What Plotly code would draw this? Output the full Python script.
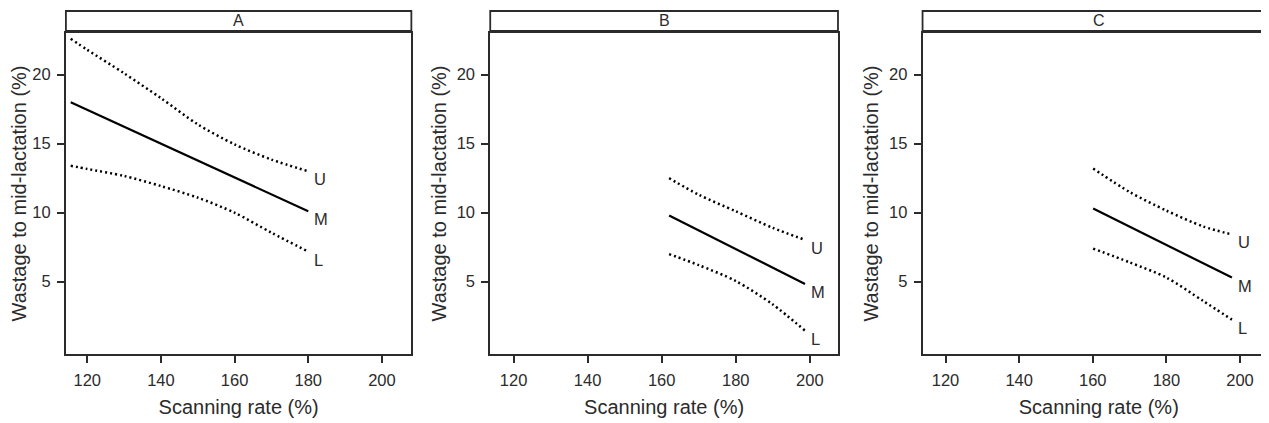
import plotly.graph_objects as go

# ---- data ----
panels = ["A", "B", "C"]

A_x = [115.5, 120, 130, 140, 150, 160, 170, 180]
A_M = [18.0, 17.45, 16.22, 15.0, 13.77, 12.55, 11.32, 10.1]
A_U = [22.6, 21.8, 20.1, 18.3, 16.4, 14.95, 13.85, 13.0]
A_L = [13.4, 13.17, 12.66, 11.93, 11.09, 10.0, 8.55, 7.18]

B_x = [162, 170, 180, 190, 198.7]
B_M = [9.8, 8.72, 7.37, 6.01, 4.83]
B_U = [12.5, 11.3, 10.1, 8.9, 8.03]
B_L = [7.0, 6.2, 5.05, 3.35, 1.45]

C_x = [160.1, 170, 180, 190, 197.8]
C_M = [10.3, 8.99, 7.66, 6.34, 5.3]
C_U = [13.2, 11.5, 10.15, 9.0, 8.42]
C_L = [7.4, 6.4, 5.3, 3.6, 2.25]

x_ticks = [120, 140, 160, 180, 200]
y_ticks = [5, 10, 15, 20]
series_labels = ["U", "M", "L"]

x_title = "Scanning rate (%)"
y_title = "Wastage to mid-lactation (%)"

data = {
    "A": (A_x, A_U, A_M, A_L),
    "B": (B_x, B_U, B_M, B_L),
    "C": (C_x, C_U, C_M, C_L),
}

# ---- layout geometry (figure pixels; page body adds an 8px offset) ----
W, H = 1269, 423
px_dom = {"A": (58, 404), "B": (483, 831.3), "C": (916, 1269)}
x_ranges = {"A": [114.2, 208.0], "B": [113.7, 207.6], "C": [113.76, 209.5]}
y_range = [-0.24, 23.02]
plot_top, plot_bot = 25, 346
strip_top, strip_bot = 3, 23

FONT = "Liberation Sans, Arial, sans-serif"
INK = "#2b2b2b"
TICK_SIZE = 16.5
TITLE_SIZE = 20
LABEL_SIZE = 16.5

fig = go.Figure()
layout = dict(
    width=W, height=H,
    margin=dict(l=0, r=0, t=0, b=0),
    paper_bgcolor="white", plot_bgcolor="white",
    showlegend=False,
    font=dict(family=FONT, size=TICK_SIZE, color=INK),
)
shapes, annotations = [], []
ydom = [1 - plot_bot / H, 1 - plot_top / H]
ph = plot_bot - plot_top

for i, p in enumerate(panels):
    n = "" if i == 0 else str(i + 1)
    xa, ya = "x" + n, "y" + n
    xs, U, M, L = data[p]
    for vals, dash, w, shp in [(U, "2px,3px", 2.5, "spline"), (M, "solid", 2.2, "linear"),
                               (L, "2px,3px", 2.5, "spline")]:
        fig.add_trace(go.Scatter(
            x=xs, y=vals, xaxis=xa, yaxis=ya, mode="lines",
            line=dict(color="black", width=w, dash=dash, shape=shp, smoothing=0.8),
            hoverinfo="skip"))
    for lab, vals in zip(series_labels, [U, M, L]):
        annotations.append(dict(
            x=xs[-1], y=vals[-1], xref=xa, yref=ya, text=lab, showarrow=False,
            xanchor="left", yanchor="middle", xshift=4, yshift=-8,
            font=dict(family=FONT, size=LABEL_SIZE, color=INK)))
    d0, d1 = px_dom[p]
    layout["xaxis" + n] = dict(
        domain=[d0 / W, min(d1 / W, 1.0)], range=x_ranges[p], anchor=ya,
        tickmode="array", tickvals=x_ticks, ticks="outside", ticklen=7, tickwidth=1.5,
        tickcolor=INK, showgrid=False, zeroline=False, showline=True, mirror=True,
        linecolor=INK, linewidth=1.8, tickfont=dict(size=TICK_SIZE), ticklabelstandoff=3,
        title=dict(text=x_title, font=dict(size=TITLE_SIZE), standoff=12))
    layout["yaxis" + n] = dict(
        domain=ydom, range=y_range, anchor=xa,
        tickmode="array", tickvals=y_ticks, ticks="outside", ticklen=7, tickwidth=1.5,
        tickcolor=INK, showgrid=False, zeroline=False, showline=True, mirror=True,
        linecolor=INK, linewidth=1.8, tickfont=dict(size=TICK_SIZE), ticklabelstandoff=3,
        title=dict(text=y_title, font=dict(size=TITLE_SIZE), standoff=5))
    # strip box
    shapes.append(dict(
        type="rect", xref=xa + " domain", yref=ya + " domain",
        x0=0, x1=1, y0=(plot_bot - strip_bot) / ph, y1=(plot_bot - strip_top) / ph,
        line=dict(color=INK, width=1.8), fillcolor="white", layer="above"))
    annotations.append(dict(
        x=0.5, y=(plot_bot - (strip_top + strip_bot) / 2) / ph,
        xref=xa + " domain", yref=ya + " domain", text=p, showarrow=False,
        xanchor="center", yanchor="middle", font=dict(family=FONT, size=16, color=INK)))

layout["shapes"] = shapes
layout["annotations"] = annotations
fig.update_layout(**layout)
fig.write_html("out.html")
